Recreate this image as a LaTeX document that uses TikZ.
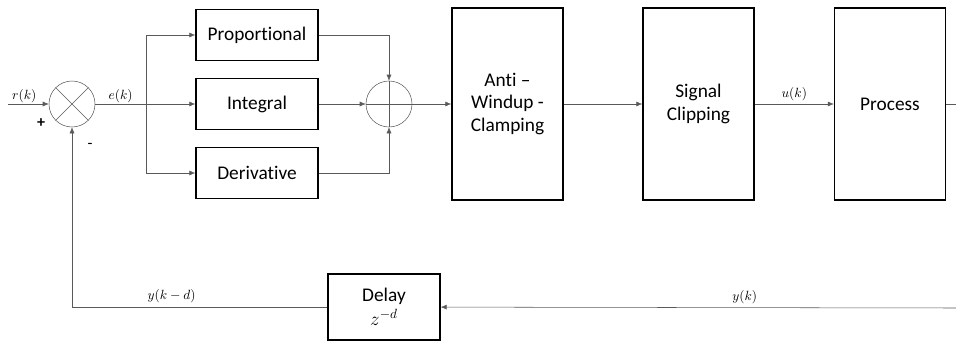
\documentclass[tikz,border=0pt]{standalone}
\usepackage{fontspec}
\setmainfont{Carlito}[Ligatures=NoCommon]
\usetikzlibrary{arrows.meta, positioning, calc}

\begin{document}
\begin{tikzpicture}[
  x=0.75pt, y=-0.75pt,
  blk/.style={draw, line width=1.1pt, rectangle, minimum width=91.5pt, minimum height=38.25pt,
              align=center, font=\fontsize{14.5}{17}\selectfont},
  tall/.style={blk, minimum width=83.25pt, minimum height=144pt},
  sumc/.style={draw, circle, gray!70!black, minimum size=34.5pt, inner sep=0pt},
  arr/.style={-{Latex[length=4.5pt,width=3.8pt]}, gray!70!black},
  wire/.style={gray!70!black},
  lbl/.style={font=\fontsize{10}{11}\selectfont, text=black, inner sep=1pt}
]
  \useasboundingbox (0,0) rectangle (956,343);

  % error junction
  \node[sumc] (s1) at (72,104) {};
  \draw[wire] (s1.north west) -- (s1.south east) (s1.north east) -- (s1.south west);
  \coordinate (rin) at (8,104);

  % PID branches
  \node[blk] (prop) at (257,35)  {Proportional};
  \node[blk] (intg) at (257,104) {Integral};
  \node[blk] (deriv) at (257,173) {Derivative};
  \coordinate (br) at (146,104);

  % summing junction
  \node[sumc] (s2) at (389,104) {};
  \draw[wire] (s2.north) -- (s2.south) (s2.west) -- (s2.east);

  % main chain
  \node[tall] (aw)   at (507.5,104) {Anti --\\Windup -\\Clamping};
  \node[tall] (clip) at (698.5,104) {Signal\\Clipping};
  \node[tall] (proc) at (890,104)   {Process};
  \coordinate (out) at (956,104);

  % feedback
  \node[blk, minimum width=84pt, minimum height=49.5pt] (dly) at (384,307)
       {Delay\\[1pt]$z^{-d}$};
  \coordinate (yk) at (956,308);

  % connectors
  \draw[arr] (rin) -- node[lbl, above, pos=0.4]{$r(k)$} (s1);
  \node[font=\bfseries\fontsize{12}{13}\selectfont] (plus) at (41,123) {+};
  \node[font=\fontsize{12}{13}\selectfont] (minus) at (90,146) {-};
  \draw[wire] (s1) -- node[lbl, above]{$e(k)$} (br);
  \draw[arr] (br) |- (prop);
  \draw[arr] (br) -- (intg);
  \draw[arr] (br) |- (deriv);
  \draw[arr] (prop) -| (s2);
  \draw[arr] (intg) -- (s2);
  \draw[arr] (deriv) -| (s2);
  \draw[arr] (s2) -- (aw);
  \draw[arr] (aw) -- (clip);
  \draw[arr] (clip) -- node[lbl, above=1pt]{$u(k)$} (proc);
  \draw[wire] (proc) -- (out);
  \draw[arr] (yk) -- node[lbl, above=2pt, pos=0.41]{$y(k)$} (dly);
  \draw[arr] (dly) -| node[lbl, above=2pt, pos=0.305]{$y(k-d)$} (s1);
\end{tikzpicture}
\end{document}
